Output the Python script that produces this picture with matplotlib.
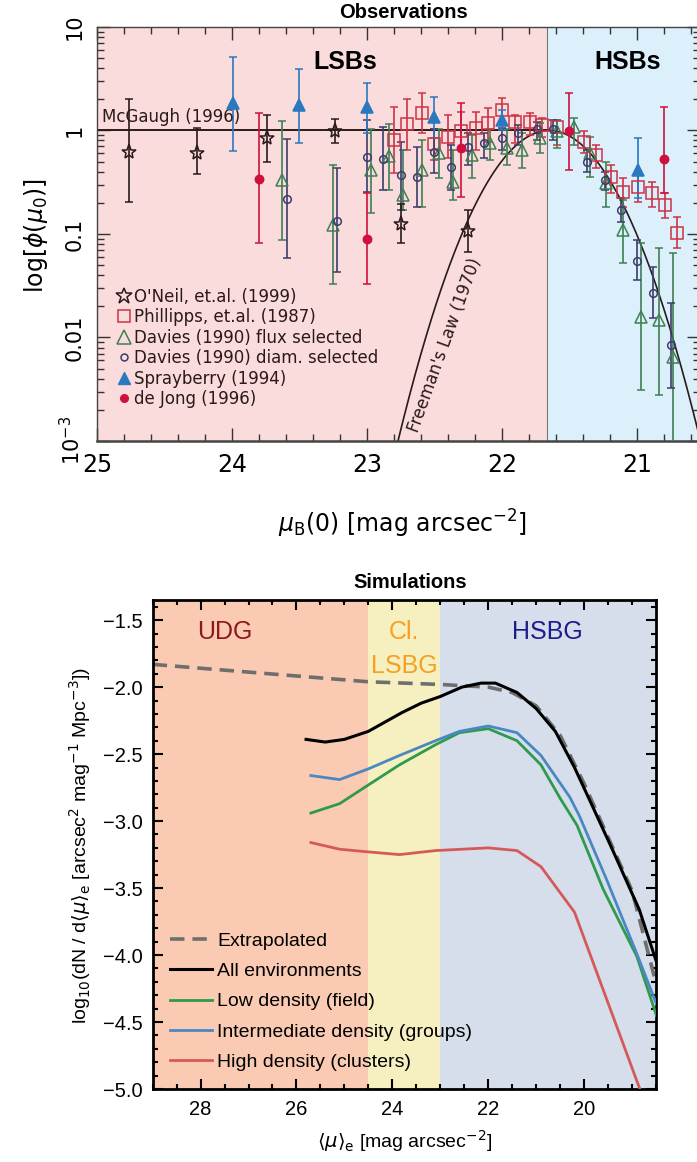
import numpy as np
import matplotlib
matplotlib.use("Agg")
import matplotlib.pyplot as plt
from matplotlib.ticker import MultipleLocator, FixedLocator, NullFormatter
from matplotlib.lines import Line2D

# ---------------------------------------------------------------------------
# Observations: central surface brightness distribution (log10 phi values)
# ---------------------------------------------------------------------------
oneil_mu = [24.76, 24.26, 23.74, 23.24, 22.75, 22.25]
oneil_lp = [-0.21, -0.22, -0.07, -0.01, -0.90, -0.97]
oneil_hi = [0.30, 0.02, 0.15, 0.11, -0.71, -0.77]
oneil_lo = [-0.69, -0.42, -0.30, -0.12, -1.09, -1.17]

phil_mu = [22.80, 22.70, 22.59, 22.50, 22.40, 22.30, 22.19, 22.10, 22.00, 21.90,
           21.79, 21.70, 21.59, 21.39, 21.30, 21.19, 21.10, 20.99, 20.89, 20.79, 20.70]
phil_lp = [-0.09, 0.06, 0.17, -0.13, -0.06, -0.01, 0.02, 0.07, 0.20, 0.08,
           0.08, 0.05, 0.03, -0.11, -0.24, -0.45, -0.59, -0.55, -0.60, -0.72, -0.99]
phil_hi = [0.23, 0.30, 0.36, 0.01, 0.15, 0.18, 0.18, 0.22, 0.31, 0.15,
           0.17, 0.12, 0.10, -0.01, -0.14, -0.33, -0.46, -0.43, -0.50, -0.60, -0.84]
phil_lo = [-0.41, -0.19, -0.02, -0.29, -0.27, -0.19, -0.19, -0.11, 0.05, -0.12,
           -0.04, -0.06, -0.14, -0.22, -0.36, -0.60, -0.74, -0.69, -0.74, -0.85, -1.14]

dflux_mu = [23.63, 23.25, 22.97, 22.84, 22.73, 22.59, 22.47, 22.36, 22.22, 22.09,
            21.96, 21.85, 21.72, 21.59, 21.47, 21.35, 21.23, 21.10, 20.97, 20.84, 20.73]
dflux_lp = [-0.48, -0.91, -0.38, -0.25, -0.62, -0.38, -0.22, -0.50, -0.24, -0.12,
            -0.17, -0.19, -0.07, -0.01, 0.03, -0.22, -0.51, -0.96, -1.80, -1.83, -2.19]
dflux_hi = [0.09, -0.33, 0.01, 0.06, -0.19, -0.09, 0.01, -0.19, -0.04, 0.01,
            0.01, -0.02, 0.07, 0.10, 0.12, -0.06, -0.30, -0.67, -1.09, -1.14, -1.18]
dflux_lo = [-1.06, -1.48, -0.80, -0.58, -0.77, -0.74, -0.46, -0.67, -0.46, -0.29,
            -0.33, -0.36, -0.22, -0.17, -0.14, -0.45, -0.74, -1.28, -2.51, -2.56, -3.10]

ddiam_mu = [23.59, 23.22, 23.00, 22.88, 22.75, 22.63, 22.50, 22.38, 22.25, 22.13,
            22.00, 21.88, 21.74, 21.62, 21.37, 21.24, 21.12, 21.00, 20.88, 20.75]
ddiam_lp = [-0.66, -0.87, -0.26, -0.28, -0.43, -0.45, -0.21, -0.35, -0.16, -0.12,
            -0.07, -0.02, 0.01, 0.01, -0.30, -0.48, -0.77, -1.26, -1.57, -2.07]
ddiam_hi = [-0.08, -0.36, 0.10, 0.03, -0.11, -0.16, 0.01, -0.14, -0.02, -0.02,
            0.02, 0.05, 0.08, 0.10, -0.19, -0.40, -0.65, -1.06, -1.32, -1.67]
ddiam_lo = [-1.23, -1.37, -0.59, -0.58, -0.77, -0.74, -0.41, -0.58, -0.33, -0.27,
            -0.19, -0.14, -0.09, -0.09, -0.40, -0.58, -0.88, -1.44, -1.81, -2.49]

spray_mu = [23.99, 23.50, 23.00, 22.50, 22.00, 20.99]
spray_lp = [0.27, 0.25, 0.23, 0.13, 0.10, -0.38]
spray_hi = [0.71, 0.59, 0.46, 0.32, 0.20, -0.07]
spray_lo = [-0.20, -0.12, -0.02, -0.07, 0.00, -0.65]

dejong_mu = [23.80, 23.00, 22.30, 21.50, 20.80]
dejong_lp = [-0.47, -1.05, -0.17, -0.01, -0.28]
dejong_hi = [0.17, -0.60, 0.27, 0.36, 0.23]
dejong_lo = [-1.09, -1.48, -0.64, -0.38, -0.60]

# Freeman (1970) gaussian and McGaugh (1996) flat distribution
FREEMAN_MU0 = 21.65
FREEMAN_WIDTH = 2.39          # dex per mag^2
HSB_LIMIT = 21.67

# ---------------------------------------------------------------------------
# Simulations: log10 dN/d<mu>_e per environment
# ---------------------------------------------------------------------------
extrap_mu = [29.0, 24.5, 23.0, 22.0, 21.5, 21.0, 20.5, 20.0, 19.5, 19.0, 18.5]
extrap_val = [-1.83, -1.96, -1.98, -2.00, -2.04, -2.14, -2.36, -2.72, -3.12, -3.52, -4.21]

all_mu = [25.8, 25.4, 25.0, 24.5, 24.2, 23.8, 23.4, 23.0, 22.55, 22.15, 21.85,
          21.4, 21.0, 20.6, 20.2, 19.85, 19.4, 18.85, 18.4]
all_val = [-2.39, -2.41, -2.39, -2.33, -2.27, -2.19, -2.12, -2.07, -2.00, -1.97, -1.97,
           -2.04, -2.16, -2.33, -2.60, -2.87, -3.22, -3.66, -4.15]

low_mu = [25.7, 25.1, 24.5, 23.85, 23.1, 22.6, 22.0, 21.4, 20.9, 20.5, 20.15, 19.6, 18.9, 18.4]
low_val = [-2.94, -2.87, -2.73, -2.58, -2.43, -2.34, -2.31, -2.40, -2.58, -2.83, -3.03,
           -3.51, -4.01, -4.55]

mid_mu = [25.7, 25.1, 24.5, 23.85, 23.1, 22.6, 22.0, 21.4, 20.9, 20.3, 20.1, 19.55, 18.9, 18.4]
mid_val = [-2.66, -2.69, -2.61, -2.51, -2.40, -2.33, -2.29, -2.34, -2.51, -2.82, -2.96,
           -3.42, -3.99, -4.45]

high_mu = [25.7, 25.1, 24.5, 23.85, 23.1, 22.0, 21.4, 20.9, 20.2, 18.6]
high_val = [-3.16, -3.21, -3.23, -3.25, -3.22, -3.20, -3.22, -3.34, -3.68, -5.23]

UDG_LIMIT = 24.5
LSBG_LIMIT = 23.0


def draw_sample(ax, mu, lp, lo, hi, color, marker, ms, filled):
    """Error-bar points stored as log10 values, drawn on a log axis."""
    y = 10 ** np.asarray(lp)
    err = [y - 10 ** np.asarray(lo), 10 ** np.asarray(hi) - y]
    ax.errorbar(mu, y, yerr=err, fmt=marker, ms=ms, mec=color,
                mfc=color if filled else "none", mew=1.1, ecolor=color,
                elinewidth=1.2, capsize=3, capthick=1.2, zorder=3)


fig = plt.figure(figsize=(6.97, 11.62), dpi=100)

# ---------------------------------------------------------------------------
# Top panel
# ---------------------------------------------------------------------------
ax1 = fig.add_axes([0.1392, 0.6205, 0.8651, 0.3563])
ax1.set_xlim(25, 20.533)
ax1.set_yscale("log")
ax1.set_ylim(1e-3, 10)
ax1.axvspan(25, HSB_LIMIT, color="#fbdcdc", zorder=0)
ax1.axvspan(HSB_LIMIT, 20.0, color="#dcf0fb", zorder=0)
ax1.axvline(HSB_LIMIT, color="#777777", lw=0.8, zorder=1)

ax1.plot([25, FREEMAN_MU0], [1, 1], color="#2a1a1a", lw=1.4, zorder=2)
mu_f = np.linspace(20.4, 23.0, 300)
ax1.plot(mu_f, 10 ** (-FREEMAN_WIDTH * (mu_f - FREEMAN_MU0) ** 2),
         color="#2a1a1a", lw=1.2, zorder=2)

c_star, c_phil, c_flux = "#2a1a1a", "#cc3344", "#3f7f52"
c_diam, c_spray, c_jong = "#3c3c6c", "#2a78c0", "#d0103c"
draw_sample(ax1, phil_mu, phil_lp, phil_lo, phil_hi, c_phil, "s", 8.5, False)
draw_sample(ax1, dflux_mu, dflux_lp, dflux_lo, dflux_hi, c_flux, "^", 9, False)
draw_sample(ax1, ddiam_mu, ddiam_lp, ddiam_lo, ddiam_hi, c_diam, "o", 5.5, False)
draw_sample(ax1, oneil_mu, oneil_lp, oneil_lo, oneil_hi, c_star, "*", 11, False)
draw_sample(ax1, spray_mu, spray_lp, spray_lo, spray_hi, c_spray, "^", 8.5, True)
draw_sample(ax1, dejong_mu, dejong_lp, dejong_lo, dejong_hi, c_jong, "o", 6, True)

ax1.text(24.96, 1.35, "McGaugh (1996)", fontsize=12, color="#2a1a1a",
         ha="left", va="center")
ax1.text(22.42, 0.0085, "Freeman's Law (1970)", fontsize=12, color="#2a1a1a",
         rotation=70, ha="center", va="center")
ax1.text(23.16, 4.6, "LSBs", fontsize=18, fontweight="bold",
         family="Liberation Sans", ha="center", va="center")
ax1.text(21.07, 4.6, "HSBs", fontsize=18, fontweight="bold",
         family="Liberation Sans", ha="center", va="center")

handles = [
    Line2D([], [], ls="none", marker="*", ms=12, mfc="none", mec=c_star, mew=1.1),
    Line2D([], [], ls="none", marker="s", ms=9, mfc="none", mec=c_phil, mew=1.1),
    Line2D([], [], ls="none", marker="^", ms=9.5, mfc="none", mec=c_flux, mew=1.1),
    Line2D([], [], ls="none", marker="o", ms=5, mfc="none", mec=c_diam, mew=1.1),
    Line2D([], [], ls="none", marker="^", ms=9, mfc=c_spray, mec=c_spray),
    Line2D([], [], ls="none", marker="o", ms=5.5, mfc=c_jong, mec=c_jong),
]
labels = ["O'Neil, et.al. (1999)", "Phillipps, et.al. (1987)",
          "Davies (1990) flux selected", "Davies (1990) diam. selected",
          "Sprayberry (1994)", "de Jong (1996)"]
leg1 = ax1.legend(handles, labels, loc="upper left", bbox_to_anchor=(0.033, 0.37),
                  frameon=False, fontsize=12, handlelength=0.8, handletextpad=0.2,
                  labelspacing=0.15, borderpad=0, borderaxespad=0)
for t in leg1.get_texts():
    t.set_color("#2a1a1a")

ax1.xaxis.set_minor_locator(MultipleLocator(0.2))
ax1.set_xticks([25, 24, 23, 22, 21])
ax1.set_xticklabels(["25", "24", "23", "22", "21"])
ax1.yaxis.set_major_locator(FixedLocator([1e-3, 1e-2, 1e-1, 1, 10]))
ax1.set_yticklabels(["$10^{-3}$", "0.01", "0.1", "1", "10"],
                    rotation=90, va="center")
ax1.yaxis.set_minor_locator(FixedLocator(
    [m * 10.0 ** e for e in range(-3, 1) for m in range(2, 10)]))
ax1.yaxis.set_minor_formatter(NullFormatter())
ax1.tick_params(which="both", direction="in", top=True, right=True,
                color="#333333", width=1.0)
ax1.tick_params(which="major", length=9.5)
ax1.tick_params(which="minor", length=5)
ax1.tick_params(axis="x", labelsize=17, pad=9)
ax1.tick_params(axis="y", labelsize=15, pad=9)
for s in ax1.spines.values():
    s.set_color("#444444")
    s.set_linewidth(1.0)
ax1.spines["bottom"].set_linewidth(1.8)

ax1.set_xlabel(r"$\mu_{\rm B}$(0) [mag arcsec$^{-2}$]", fontsize=17)
ax1.xaxis.set_label_coords(0.506, -0.162)
ax1.set_ylabel(r"log[$\phi(\mu_0)$]", fontsize=17)
ax1.yaxis.set_label_coords(-0.078, 0.497)

fig.text(403 / 697, 1 - 12 / 1162, "Observations", fontsize=14.5, fontweight="bold",
         family="Liberation Sans", ha="center", va="center")

# ---------------------------------------------------------------------------
# Bottom panel
# ---------------------------------------------------------------------------
sans = "Liberation Sans"
ax2 = fig.add_axes([0.219, 0.0628, 0.7222, 0.4208])
ax2.set_xlim(29, 18.5)
ax2.set_ylim(-5.0, -1.35)
ax2.axvspan(29, UDG_LIMIT, color="#fbcab3", lw=0, zorder=0)
ax2.axvspan(UDG_LIMIT, LSBG_LIMIT, color="#f6efc0", lw=0, zorder=0)
ax2.axvspan(LSBG_LIMIT, 18.5, color="#d6deeb", lw=0, zorder=0)

ax2.plot(extrap_mu, extrap_val, color="#6e6e6e", lw=2.6, dashes=(4, 2.2),
         label="Extrapolated", zorder=2)
ax2.plot(all_mu, all_val, color="black", lw=2.2, label="All environments", zorder=3)
ax2.plot(low_mu, low_val, color="#2e9a4e", lw=2.0, label="Low density (field)", zorder=3)
ax2.plot(mid_mu, mid_val, color="#4a88c2", lw=2.0,
         label="Intermediate density (groups)", zorder=3)
ax2.plot(high_mu, high_val, color="#d45a5a", lw=2.0,
         label="High density (clusters)", zorder=3)

ax2.text(27.49, -1.59, "UDG", color="#8b1a1a", fontsize=18, family=sans,
         ha="center", va="center")
ax2.text(23.75, -1.59, "Cl.", color="#f5a020", fontsize=18, family=sans,
         ha="center", va="center")
ax2.text(23.75, -1.84, "LSBG", color="#f5a020", fontsize=18, family=sans,
         ha="center", va="center")
ax2.text(20.76, -1.59, "HSBG", color="#1c1c8c", fontsize=18, family=sans,
         ha="center", va="center")

leg2 = ax2.legend(loc="lower left", bbox_to_anchor=(0.035, 0.037), frameon=False,
                  prop={"family": sans, "size": 14}, handlelength=2.15,
                  handletextpad=0.25, labelspacing=0.65, borderpad=0,
                  borderaxespad=0)

ax2.xaxis.set_major_locator(MultipleLocator(2))
ax2.xaxis.set_minor_locator(MultipleLocator(0.5))
ax2.yaxis.set_major_locator(MultipleLocator(0.5))
ax2.yaxis.set_minor_locator(MultipleLocator(0.1))
ax2.xaxis.set_major_formatter(plt.FuncFormatter(lambda v, p: f"{v:.0f}"))
ax2.yaxis.set_major_formatter(plt.FuncFormatter(lambda v, p: f"{v:.1f}".replace("-", "\u2212")))
ax2.tick_params(which="both", direction="in", top=True, right=True, width=1.5)
ax2.tick_params(which="major", length=7)
ax2.tick_params(which="minor", length=3.5)
ax2.tick_params(axis="x", labelsize=14.5, pad=8)
ax2.tick_params(axis="y", labelsize=14.5, pad=7)
for lab in ax2.get_xticklabels() + ax2.get_yticklabels():
    lab.set_family(sans)
for s in ax2.spines.values():
    s.set_linewidth(2.0)

ax2.set_xlabel(r"$\langle\mu\rangle_{\rm e}$ [mag arcsec$^{-2}$]", fontsize=14,
               family=sans)
ax2.xaxis.set_label_coords(0.5, -0.08)
ax2.set_ylabel(r"log$_{10}$(dN / d$\langle\mu\rangle_{\rm e}$ [arcsec$^{2}$ mag$^{-1}$ Mpc$^{-3}$])",
               fontsize=14, family=sans)
ax2.yaxis.set_label_coords(-0.118, 0.499)

fig.text(410 / 697, 1 - 583 / 1162, "Simulations", fontsize=14.5, fontweight="bold",
         family=sans, ha="center", va="center")

fig.savefig("out.png", dpi=100)
